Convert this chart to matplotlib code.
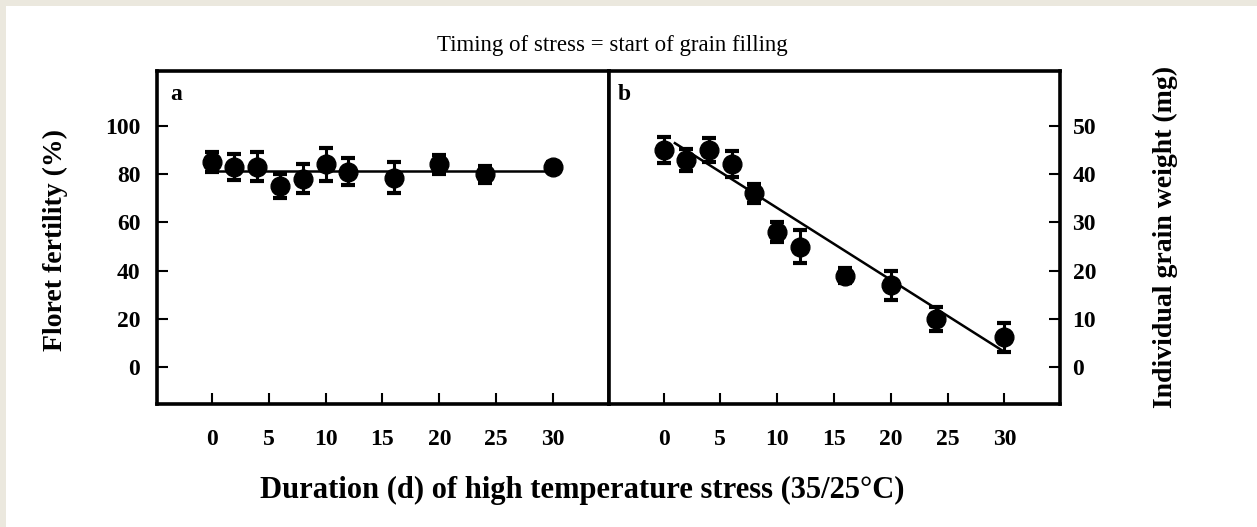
import matplotlib.pyplot as plt
from matplotlib.patches import Rectangle

# duration of stress (d)
days = [0, 2, 4, 6, 8, 10, 12, 16, 20, 24, 30]

# panel a: floret fertility (%)
fertility = [85, 83, 83, 75, 78, 84, 81, 78.5, 84, 80, 83]
fertility_err = [4, 5.5, 6, 5, 6, 7, 5.5, 6.5, 4, 3.5, 2]
fertility_fit = 81.2

# panel b: individual grain weight (mg)
grain_wt = [45, 43, 45, 42, 36, 28, 25, 19, 17, 10, 6.2]
grain_err = [2.7, 2.3, 2.4, 2.7, 2, 2, 3.5, 1.5, 3, 2.4, 3]
grain_fit_intercept = 47.9
grain_fit_slope = -1.49
grain_fit_range = [1.0, 30.0]

xticks = [0, 5, 10, 15, 20, 25, 30]
fert_ticks = [0, 20, 40, 60, 80, 100]
grain_ticks = [0, 10, 20, 30, 40, 50]

plt.rcParams['font.family'] = ['Liberation Serif', 'DejaVu Serif']
plt.rcParams['font.weight'] = 'bold'

W, H = 1257, 527
fig = plt.figure(figsize=(W / 100, H / 100), dpi=100)
fig.patch.set_facecolor('#ebe8de')
fig.patches.append(Rectangle((6 / W, 0), 1, 1 - 6 / H, transform=fig.transFigure,
                             facecolor='white', edgecolor='none', zorder=-5))

ax_a = fig.add_axes([157 / W, 123 / H, 452 / W, 333 / H])
ax_b = fig.add_axes([609 / W, 123 / H, 451 / W, 333 / H])

err_style = dict(fmt='o', color='black', markersize=13.5, capsize=5,
                 capthick=3, elinewidth=2.2, zorder=3)

ax_a.errorbar(days, fertility, yerr=fertility_err, **err_style)
ax_a.plot([days[0], days[-1]], [fertility_fit, fertility_fit], color='black', lw=1.8)
ax_a.set_ylim(-15.2, 122.7)
ax_a.set_yticks(fert_ticks)

ax_b.errorbar(days, grain_wt, yerr=grain_err, **err_style)
fx = grain_fit_range
fy = [grain_fit_intercept + grain_fit_slope * v for v in fx]
ax_b.plot(fx, fy, color='black', lw=1.8)
ax_b.set_ylim(-7.6, 61.35)
ax_b.set_yticks(grain_ticks)
ax_b.yaxis.tick_right()

for ax in (ax_a, ax_b):
    ax.set_xlim(-4.8, 34.9)
    ax.set_xticks(xticks)
    for s in ax.spines.values():
        s.set_linewidth(2.6)
    ax.tick_params(direction='in', length=8, width=1.5, labelsize=17)
    ax.tick_params(axis='x', pad=18, top=False)
    ax.patch.set_facecolor('white')

ax_a.tick_params(axis='y', pad=12, right=False)
ax_b.tick_params(axis='y', pad=9, left=False, labelleft=False, labelright=True)

ax_a.text(0.03, 0.96, 'a', transform=ax_a.transAxes, fontsize=17, va='top', ha='left')
ax_b.text(0.02, 0.96, 'b', transform=ax_b.transAxes, fontsize=17, va='top', ha='left')

fig.text(612 / W, 1 - 45 / H, 'Timing of stress = start of grain filling',
         fontsize=16.5, fontweight='normal', ha='center', va='center')
fig.text(582 / W, 1 - 490 / H, 'Duration (d) of high temperature stress (35/25\u00b0C)',
         fontsize=22, ha='center', va='center')
fig.text(55 / W, 1 - 240 / H, 'Floret fertility (%)', fontsize=20, rotation=90,
         ha='center', va='center')
fig.text(1165 / W, 1 - 237 / H, 'Individual grain weight (mg)', fontsize=20,
         rotation=90, ha='center', va='center')

fig.savefig('out.png', dpi=100)
